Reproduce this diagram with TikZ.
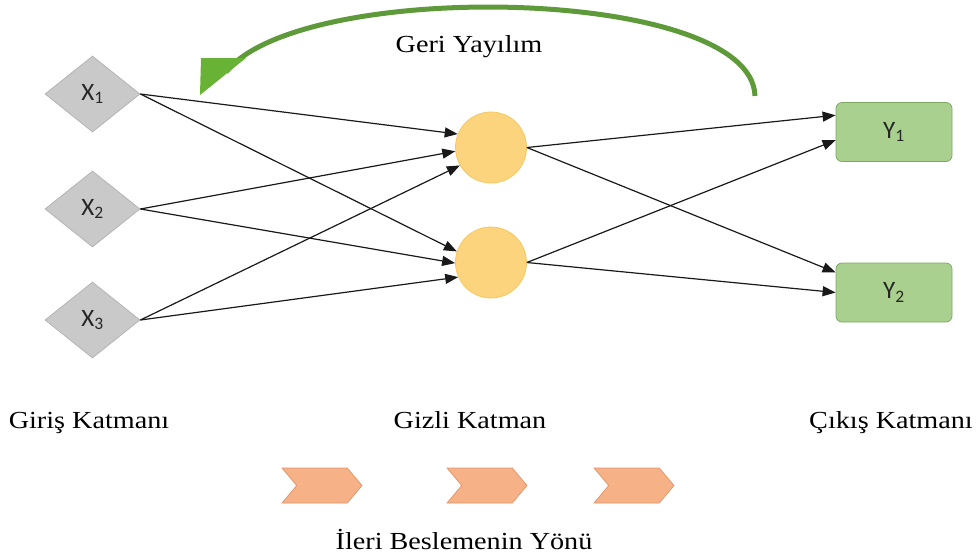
\documentclass[tikz,border=0pt]{standalone}
\usepackage{fontspec}
\setmainfont{Liberation Serif}[FakeStretch=1.15]
\newfontfamily\calfont{Carlito}
\usetikzlibrary{shapes.geometric,shapes.symbols,arrows.meta}
\definecolor{dgray}{HTML}{C9C9C9}
\definecolor{dgrayb}{HTML}{B5B5B5}
\definecolor{cyel}{HTML}{FDD47E}
\definecolor{cyelb}{HTML}{F5C862}
\definecolor{ygreen}{HTML}{A9D08E}
\definecolor{ygreenb}{HTML}{7FA864}
\definecolor{chevf}{HTML}{F6B187}
\definecolor{chevb}{HTML}{E0956A}
\definecolor{arcg}{HTML}{5E9A3A}
\definecolor{arcf}{HTML}{68B236}
\tikzset{
  inbox/.style={shape=diamond, fill=dgray, draw=dgrayb, line width=0.8pt, minimum width=95pt, minimum height=76pt, inner sep=0pt, font=\calfont\fontsize{25}{27}\selectfont, text=black!85},
  hidden/.style={circle, fill=cyel, draw=cyelb, line width=0.8pt, minimum size=71pt, inner sep=0pt},
  outbox/.style={rectangle, rounded corners=6pt, fill=ygreen, draw=ygreenb, line width=0.8pt, minimum width=116pt, minimum height=59pt, inner sep=0pt, font=\calfont\fontsize{25}{27}\selectfont, text=black!85},
  chev/.style={signal, signal to=east, signal from=west, signal pointer angle=100, fill=chevf, draw=chevb, line width=0.7pt, minimum width=80pt, minimum height=35pt, inner sep=0pt},
  lbl/.style={font=\fontsize{24.5}{29}\selectfont, inner sep=0pt, anchor=base},
  conn/.style={line width=1.2pt, draw=black!90, -{Triangle[length=13pt,width=10pt]}},
}
\begin{document}
\begin{tikzpicture}[x=1pt,y=-1pt]
\useasboundingbox (0,0) rectangle (977,555);
% input layer
\node[inbox] (x1) at (92.5,94) {X\textsubscript{1}};
\node[inbox] (x2) at (92.5,209) {X\textsubscript{2}};
\node[inbox] (x3) at (92.5,320) {X\textsubscript{3}};
% hidden layer
\node[hidden] (h1) at (491,147.5) {};
\node[hidden] (h2) at (491,262.5) {};
% output layer
\node[outbox] (y1) at (894,132) {Y\textsubscript{1}};
\node[outbox] (y2) at (894,292.5) {Y\textsubscript{2}};
% connections input -> hidden
\draw[conn] (x1.east) -- (h1.158);
\draw[conn] (x1.east) -- (h2.162);
\draw[conn] (x2.east) -- (h1.186);
\draw[conn] (x2.east) -- (h2.181);
\draw[conn] (x3.east) -- (h1.210);
\draw[conn] (x3.east) -- (h2.204);
% hidden -> output
\draw[conn] (h1.east) -- (y1.164);
\draw[conn] (h1.east) -- (y2.161);
\draw[conn] (h2.east) -- (y1.188);
\draw[conn] (h2.east) -- (y2.180);
% back-propagation arc
\coordinate (arcS) at (755,96);
\coordinate (arcE) at (226,72);
\coordinate (tipA) at (201,58);
\coordinate (tipB) at (246,58);
\coordinate (tipC) at (200,95);
\draw[arcg, line width=5pt] (arcS) .. controls (752,-14) and (300,-22) .. (arcE);
\fill[arcf] (tipA) -- (tipB) -- (tipC) -- cycle;
\node[lbl] (geri) at (469,52) {Geri Yayılım};
% layer labels
\node[lbl] (lin) at (89,428) {Giriş Katmanı};
\node[lbl] (lhid) at (470,428) {Gizli Katman};
\node[lbl] (lout) at (891,428) {Çıkış Katmanı};
% feed forward chevrons
\node[chev] (c1) at (322,485.5) {};
\node[chev] (c2) at (487,485.5) {};
\node[chev] (c3) at (634,485.5) {};
\node[lbl] (ileri) at (464,549) {İleri Beslemenin Yönü};
\end{tikzpicture}
\end{document}
